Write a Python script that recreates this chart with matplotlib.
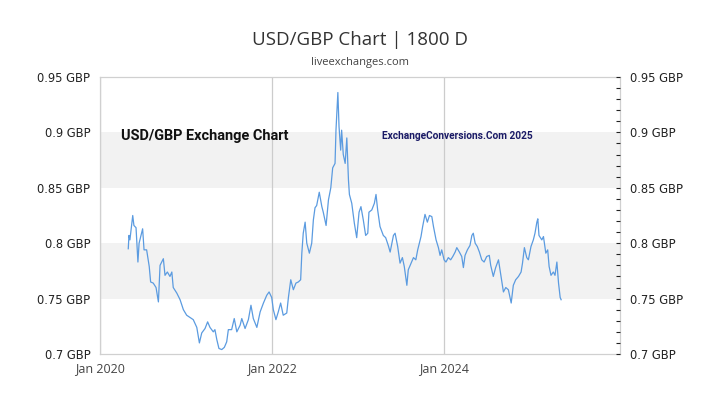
import matplotlib
matplotlib.use("Agg")
import matplotlib.pyplot as plt
import pandas as pd

# days since 1 Jan 2020 and the USD/GBP rate
days = [120, 123, 127, 139, 144, 153, 161, 166, 181, 187, 198, 209, 215, 226, 238, 248,
        255, 269, 276, 286, 297, 305, 311, 326, 340, 354, 368, 382, 396, 411, 422, 432,
        446, 457, 467, 474, 481, 488, 496, 505, 517, 528, 538, 545, 559, 570, 581, 595,
        602, 616, 630, 641, 651, 666, 680, 694, 708, 718, 729, 736, 747, 757, 767, 778,
        793, 800, 810, 821, 832, 842, 852, 857, 863, 871, 878, 889, 899, 906, 913, 920,
        931, 942, 948, 960, 970, 980, 988, 998, 1002, 1010, 1015, 1022, 1026, 1033, 1041, 1048,
        1055, 1059, 1069, 1080, 1090, 1100, 1108, 1118, 1128, 1137, 1142, 1154, 1165, 1172, 1179, 1189,
        1203, 1213, 1224, 1232, 1246, 1253, 1264, 1274, 1284, 1292, 1303, 1309, 1321, 1331, 1341, 1349,
        1363, 1370, 1380, 1390, 1399, 1409, 1416, 1427, 1437, 1444, 1451, 1461, 1469, 1479, 1489, 1498,
        1508, 1515, 1526, 1536, 1543, 1550, 1560, 1571, 1579, 1585, 1593, 1602, 1611, 1621, 1631, 1642,
        1653, 1659, 1670, 1680, 1692, 1703, 1713, 1723, 1734, 1746, 1755, 1765, 1777, 1788, 1794, 1802,
        1812, 1819, 1830, 1840, 1847, 1855, 1859, 1864, 1876, 1883, 1893, 1901, 1907, 1915, 1925, 1932,
        1940, 1947, 1954, 1958]
rates = [0.795, 0.807, 0.803, 0.825, 0.816, 0.814, 0.783, 0.800, 0.813, 0.794, 0.794, 0.779, 0.765, 0.764, 0.760, 0.747,
         0.780, 0.786, 0.771, 0.774, 0.770, 0.774, 0.760, 0.755, 0.749, 0.740, 0.735, 0.733, 0.731, 0.724, 0.710, 0.719,
         0.723, 0.729, 0.724, 0.722, 0.720, 0.722, 0.713, 0.705, 0.704, 0.706, 0.711, 0.722, 0.722, 0.732, 0.720, 0.726,
         0.732, 0.723, 0.731, 0.744, 0.732, 0.724, 0.738, 0.746, 0.753, 0.756, 0.751, 0.740, 0.731, 0.738, 0.746, 0.735,
         0.737, 0.751, 0.767, 0.758, 0.764, 0.765, 0.767, 0.791, 0.809, 0.819, 0.800, 0.791, 0.800, 0.821, 0.832, 0.834,
         0.846, 0.833, 0.828, 0.816, 0.839, 0.850, 0.868, 0.872, 0.902, 0.936, 0.905, 0.884, 0.902, 0.880, 0.872, 0.895,
         0.857, 0.844, 0.836, 0.818, 0.805, 0.828, 0.833, 0.821, 0.807, 0.809, 0.828, 0.830, 0.836, 0.844, 0.830, 0.815,
         0.807, 0.805, 0.798, 0.792, 0.807, 0.809, 0.797, 0.782, 0.787, 0.779, 0.762, 0.776, 0.782, 0.787, 0.785, 0.794,
         0.806, 0.815, 0.826, 0.819, 0.825, 0.824, 0.815, 0.803, 0.796, 0.789, 0.794, 0.785, 0.783, 0.787, 0.785, 0.788,
         0.792, 0.796, 0.792, 0.788, 0.778, 0.789, 0.794, 0.798, 0.807, 0.809, 0.800, 0.797, 0.792, 0.785, 0.783, 0.788,
         0.789, 0.780, 0.770, 0.778, 0.785, 0.770, 0.756, 0.760, 0.758, 0.746, 0.762, 0.767, 0.770, 0.774, 0.782, 0.796,
         0.787, 0.785, 0.797, 0.803, 0.809, 0.819, 0.822, 0.807, 0.803, 0.806, 0.791, 0.794, 0.779, 0.771, 0.774, 0.771,
         0.783, 0.764, 0.751, 0.749]

y_ticks = [0.7, 0.75, 0.8, 0.85, 0.9, 0.95]
y_labels = ["0.7 GBP", "0.75 GBP", "0.8 GBP", "0.85 GBP", "0.9 GBP", "0.95 GBP"]
x_ticks = ["2020-01-01", "2022-01-01", "2024-01-01"]
x_labels = ["Jan 2020", "Jan 2022", "Jan 2024"]
bands = [(0.75, 0.8), (0.85, 0.9)]


def fit_text(fig, x, y, s, width_px, size, **kw):
    # draw the text, then scale the font so it spans the wanted width
    t = fig.text(x, y, s, fontsize=size, **kw)
    fig.canvas.draw()
    w = t.get_window_extent().width
    t.set_fontsize(size * width_px / w)
    return t


def plot_rate(namefile) -> None:

    start = pd.Timestamp("2020-01-01")
    dates = start + pd.to_timedelta(days, unit="D")

    fig = plt.figure(figsize=(7.2, 4.05), dpi=100)
    ax = fig.add_axes([100 / 720, 1 - 354 / 405, 520 / 720, 277 / 405])

    # grey bands behind the line
    for lo, hi in bands:
        ax.axhspan(lo, hi, color="#f2f2f2", lw=0, zorder=0)

    # vertical grid at the labelled years
    for t in x_ticks:
        ax.axvline(pd.Timestamp(t), color="#cccccc", lw=0.9, zorder=1)

    ax.plot(dates, rates, c="#5b9be0", lw=0.9, zorder=3)

    ax.set_xlim(start, start + pd.Timedelta(days=2208))
    ax.set_ylim(0.7, 0.95)

    for s in ax.spines.values():
        s.set_color("#d0d0d0")
        s.set_linewidth(0.9)

    ax.set_xticks([pd.Timestamp(t) for t in x_ticks])
    ax.set_xticklabels(x_labels, fontsize=9, color="#444444", family="Open Sans")
    ax.tick_params(axis="x", length=0, pad=6)

    ax.set_yticks(y_ticks)
    ax.set_yticklabels(y_labels, fontsize=8.3, color="#222222", family="DejaVu Sans")
    ax.tick_params(axis="y", length=0, pad=7)

    # right side copy of the axis with small ticks
    ax2 = ax.twinx()
    ax2.set_ylim(0.7, 0.95)
    ax2.set_yticks(y_ticks)
    ax2.set_yticklabels(y_labels, fontsize=8.3, color="#222222", family="DejaVu Sans")
    ax2.set_yticks([0.7 + 0.01 * i for i in range(26)], minor=True)
    ax2.tick_params(axis="y", which="both", direction="in", length=3, width=0.8,
                    color="#222222", pad=7)
    for s in ax2.spines.values():
        s.set_visible(False)

    # titles
    fig.text(0.5, 1 - 40 / 405, "USD/GBP Chart | 1800 D", ha="center", va="center",
             fontsize=13.5, color="#333333", family="Open Sans")
    fig.text(0.5, 1 - 63 / 405, "liveexchanges.com", ha="center", va="center",
             fontsize=8, color="#444444", family="Open Sans")

    # watermark texts inside the plot
    fit_text(fig, 121 / 720, 1 - 136 / 405, "USD/GBP Exchange Chart", 168, 13,
             ha="left", va="center", fontweight="bold", color="#111111",
             family="Roboto")
    fit_text(fig, 382 / 720, 1 - 136 / 405, "ExchangeConversions.Com 2025", 152, 9.5,
             ha="left", va="center", fontweight="bold", color="#1a1a66",
             family="Roboto")

    plt.savefig(namefile, dpi=100)


plot_rate("out.png")
